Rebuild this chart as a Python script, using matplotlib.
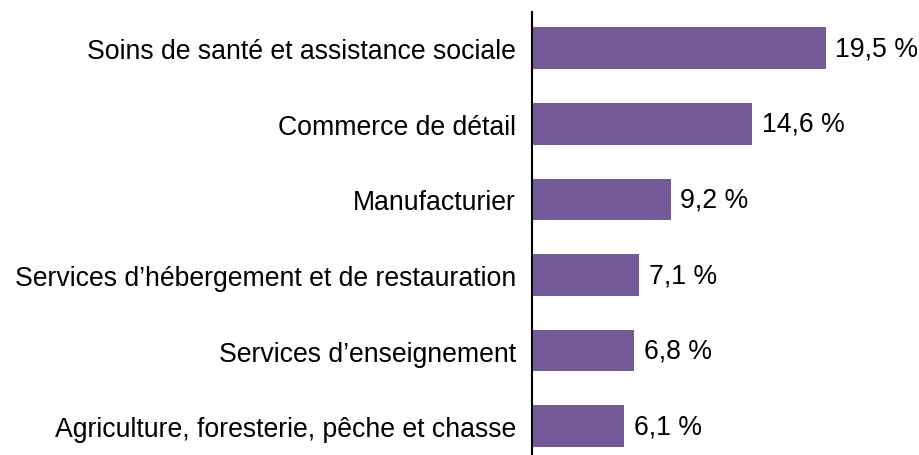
import matplotlib
matplotlib.use("Agg")
import matplotlib.pyplot as plt

# --- data ---
categories = [
    "Soins de santé et assistance sociale",
    "Commerce de détail",
    "Manufacturier",
    "Services d’hébergement et de restauration",
    "Services d’enseignement",
    "Agriculture, foresterie, pêche et chasse",
]
values = [19.5, 14.6, 9.2, 7.1, 6.8, 6.1]

plt.rcParams['font.family'] = ['Liberation Sans', 'DejaVu Sans']

fig = plt.figure(figsize=(9.19, 4.56), dpi=100)
# axes from the vertical line (x=532px) to the right edge
ax = fig.add_axes([532 / 919, -9 / 456, 1 - 532 / 919, 452 / 456])

pos = list(range(len(categories)))
ax.barh(pos, values, height=0.55, color="#735a98")

for y, v in zip(pos, values):
    ax.text(v + 0.65, y, f"{v:.1f} %".replace(".", ","), va="center",
            ha="left", fontsize=19.2, color="black")

ax.set_yticks(pos)
ax.set_yticklabels(categories, fontsize=19.2)
ax.set_ylim(len(categories) - 0.5, -0.48)
ax.set_xlim(0, 25.7)

ax.tick_params(axis="y", length=0, pad=11.5)
ax.set_xticks([])
for s in ["top", "right", "bottom"]:
    ax.spines[s].set_visible(False)
ax.spines["left"].set_linewidth(1.5)
ax.spines["left"].set_color("black")

fig.savefig("out.png", dpi=100)
